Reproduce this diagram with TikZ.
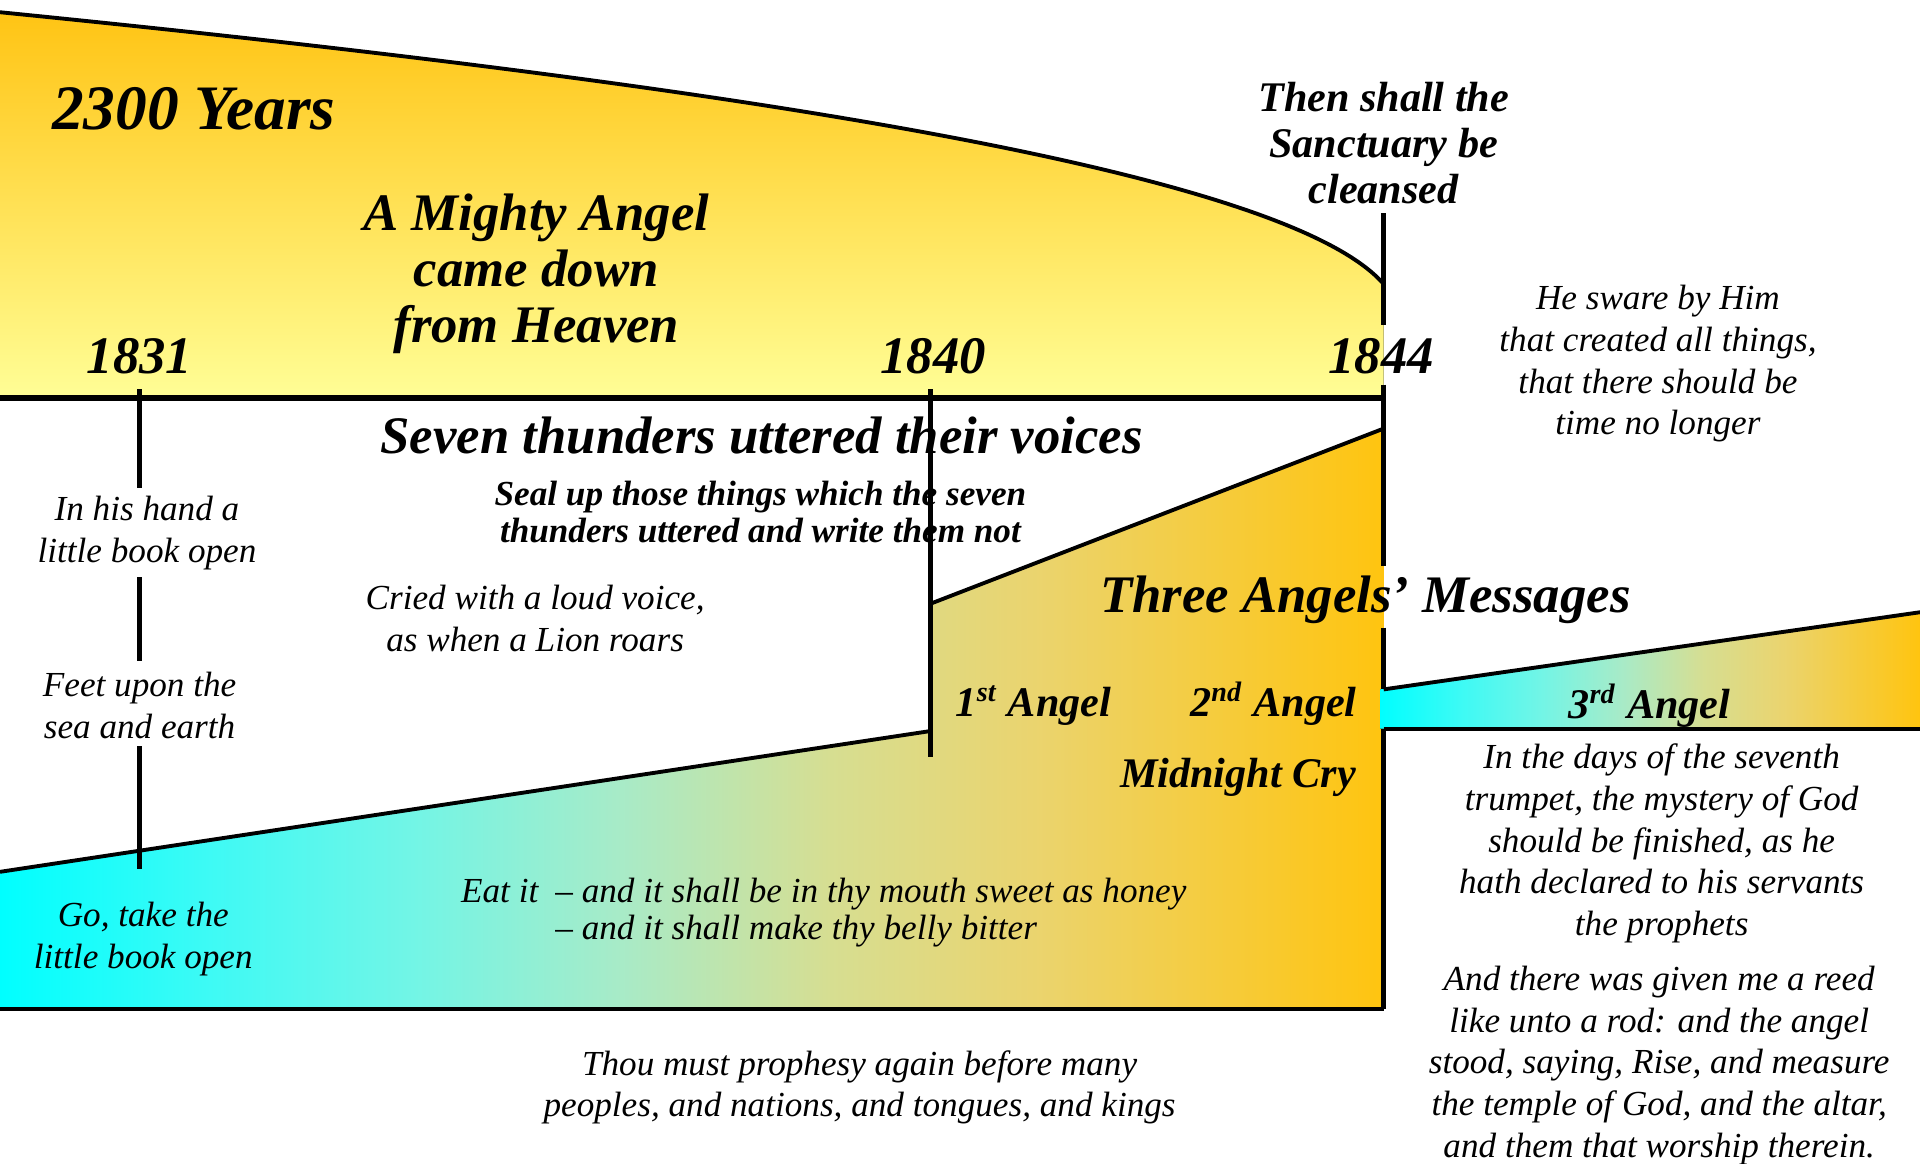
\documentclass[tikz,border=0pt]{standalone}
\usepackage{fontspec}
\setmainfont{Liberation Serif}
\usetikzlibrary{calc}

\definecolor{gold}{RGB}{255,196,20}
\definecolor{hellgelb}{RGB}{255,254,150}

% Verlauf tuerkis -> gold
\pgfdeclarehorizontalshading{botschaft}{100bp}{rgb(0bp)=(0,1,1); rgb(25bp)=(0,1,1);
  rgb(32.5bp)=(0.24,0.98,0.96); rgb(40bp)=(0.45,0.96,0.90); rgb(47.5bp)=(0.66,0.92,0.78);
  rgb(55bp)=(0.84,0.87,0.57); rgb(62.5bp)=(0.92,0.83,0.43); rgb(75bp)=(1,0.77,0.06);
  rgb(100bp)=(1,0.77,0.06)}

\begin{document}
\begin{tikzpicture}[x=0.012245cm, y=-0.012245cm,
    titel/.style={font=\bfseries\itshape\fontsize{15}{16}\selectfont, inner sep=0pt},
    jahr/.style={font=\bfseries\itshape\fontsize{15}{16}\selectfont, inner sep=0pt},
    engel/.style={font=\bfseries\itshape\fontsize{12}{13}\selectfont, inner sep=0pt},
    spruch/.style={font=\itshape\fontsize{10}{11.85}\selectfont, align=center, inner sep=0pt},
    strich/.style={line width=1.4pt},
    kante/.style={line width=1.1pt}]
\useasboundingbox (0,0) rectangle (1568,950);

% Zeitachse:
\coordinate (a1831) at (114,325);
\coordinate (a1840) at (760,325);
\coordinate (a1844) at (1130,325);
\coordinate (o1844) at (1130,174); % oberes Ende
\coordinate (u1844) at (1130,824); % unteres Ende
\coordinate (e1831) at (114,710);
\coordinate (e1840) at (760,618);
\coordinate (b1) at (1130,563); % Band oben
\coordinate (b2) at (1130,595); % Band unten

% 2300 Jahre (oben):
\fill[top color=gold, bottom color=hellgelb] (0,10) .. controls (600,70) and (1050,140) .. (1130,232) -- (a1844) -- (0,325) -- cycle;
\draw[kante] (0,10) .. controls (600,70) and (1050,140) .. (1130,232); % Bogen

% Botschaften (unten):
\fill[shading=botschaft] (0,712) -- (760,597) -- (760,493) -- (1130,350) -- (u1844) -- (0,824) -- cycle;
\draw[kante] (0,712) -- (760,597); % erste Schraege
\draw[kante] (760,493) -- (1130,350); % zweite Schraege
\draw[strich] (0,824) -- (u1844); % unterer Rand

% dritter Engel:
\fill[shading=botschaft] (1127,563) -- (1568,500) -- (1568,595) -- (1127,595) -- cycle;
\draw[kante] (b1) -- (1568,500);
\draw[kante] (b2) -- (1568,595);

\draw[line width=1.9pt] (0,325) -- (a1844); % Hauptlinie

% Texte:
\node[anchor=base west, font=\bfseries\itshape\fontsize{18}{20}\selectfont, inner sep=0pt] (jahre) at (42,106) {2300 Years};
\node[titel, align=center, anchor=base] (maechtig) at (438,280) {A Mighty Angel\\came down\\from Heaven};
\node[titel, align=center, anchor=base, font=\bfseries\itshape\fontsize{12}{13.1}\selectfont] (heiligtum) at (1130,166) {Then shall the\\Sanctuary be\\cleansed};
\node[jahr, anchor=base] (j1831) at (114,305) {1831};
\node[jahr, anchor=base] (j1840) at (762,305) {1840};
\node[jahr, anchor=base] (j1844) at (1128,305) {1844};
\node[titel, anchor=base] (donner) at (622,370) {Seven thunders uttered their voices};
\node[spruch, anchor=base, font=\bfseries\itshape\fontsize{10}{10.45}\selectfont] (versiegeln) at (621,443) {Seal up those things which the seven\\thunders uttered and write them not};
\node[spruch, anchor=base] (loewe) at (437,532) {Cried with a loud voice,\\as when a Lion roars};
\node[spruch, anchor=base] (hand) at (120,459) {In his hand a\\little book open};
\node[spruch, anchor=base] (fuesse) at (114,603) {Feet upon the\\sea and earth};
\node[spruch, anchor=base] (nimm) at (117,791) {Go, take the\\little book open};
\node[spruch, anchor=base west] (iss) at (376,737) {Eat it};
\node[spruch, align=left, anchor=base west, font=\itshape\fontsize{10}{10.45}\selectfont] (honig) at (453,767) {– and it shall be in thy mouth sweet as honey\\– and it shall make thy belly bitter};
\node[spruch, anchor=base] (weissagen) at (702,912) {Thou must prophesy again before many\\peoples, and nations, and tongues, and kings};
\node[titel, anchor=base] (drei) at (1115,500) {Three Angels’ Messages};
\node[engel, anchor=base] (erster) at (844,585) {1\textsuperscript{st} Angel};
\node[engel, anchor=base] (zweiter) at (1040,585) {2\textsuperscript{nd} Angel};
\node[engel, anchor=base] (mitternacht) at (1011,643) {Midnight Cry};
\node[engel, anchor=base] (dritter) at (1347,587) {3\textsuperscript{rd} Angel};
\node[spruch, anchor=base] (schwur) at (1354,355) {He sware by Him\\that created all things,\\that there should be\\time no longer};
\node[spruch, anchor=base] (posaune) at (1357,764) {In the days of the seventh\\trumpet, the mystery of God\\should be finished, as he\\hath declared to his servants\\the prophets};
\node[spruch, anchor=base] (rohr) at (1355,945) {And there was given me a reed\\like unto a rod: and the angel\\stood, saying, Rise, and measure\\the temple of God, and the altar,\\and them that worship therein.};

% Striche 1831:
\draw[strich, shorten >=2pt] ($(a1831)+(0,-7)$) -- (hand.north -| a1831);
\draw[strich, shorten <=2pt, shorten >=3pt] (hand.south -| a1831) -- (fuesse.north -| a1831);
\draw[strich, shorten <=2pt] (fuesse.south -| a1831) -- (e1831);
% Strich 1840:
\draw[strich] ($(a1840)+(0,-7)$) -- (e1840);
% Striche 1844:
\draw[strich, shorten >=3.5pt] (o1844) -- (j1844.north -| a1844);
\draw[strich, shorten <=2.8pt, shorten >=2.5pt] (j1844.south -| a1844) -- (drei.north -| a1844);
\draw[strich, shorten <=1pt] (drei.south -| a1844) -- (b1);
\draw[strich] (b2) -- (u1844);
\end{tikzpicture}
\end{document}
